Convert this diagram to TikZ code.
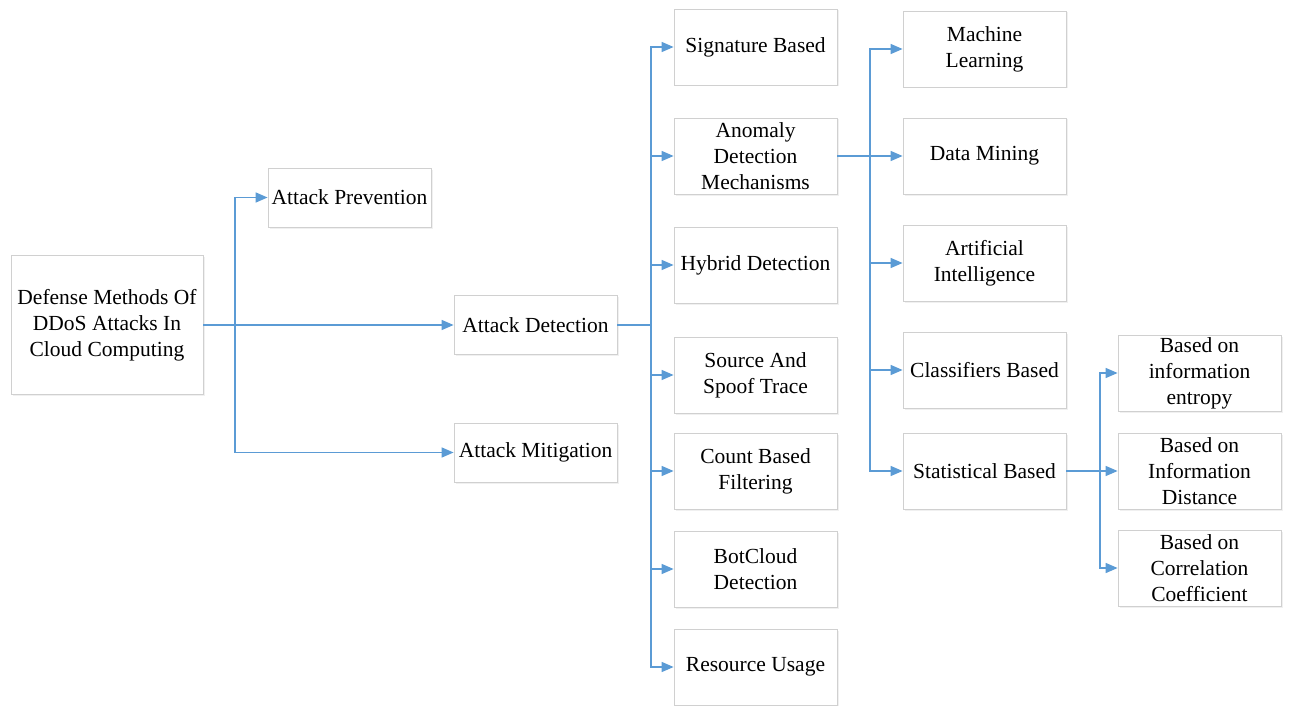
\documentclass[tikz,border=0pt]{standalone}
\usepackage{fontspec}
\setmainfont{Liberation Serif}
\usetikzlibrary{arrows.meta,shadows}
\definecolor{arrowblue}{HTML}{5B9BD5}
\definecolor{boxline}{HTML}{D0D0D0}
\begin{document}
\begin{tikzpicture}[x=1pt,y=-1pt,
  box/.style={draw=boxline,line width=0.8pt,fill=white,align=center,inner sep=2pt,
    font=\fontsize{21.5}{26}\selectfont,
    drop shadow={opacity=0.12,shadow xshift=1.5pt,shadow yshift=-1.5pt}},
  wbox/.style={box,minimum width=163pt,minimum height=59pt},
  cbox/.style={box,minimum width=163pt,minimum height=76pt},
  link/.style={draw=arrowblue,line width=1.5pt},
  conn/.style={link,-{Triangle[length=12pt,width=10pt]}}]
\useasboundingbox (0,0) rectangle (1293,706);
% root
\node[box,minimum width=192pt,minimum height=139pt] (root) at (107,325) {Defense Methods Of\\DDoS Attacks In\\Cloud Computing};
% level 2
\node[wbox] (prev) at (349.5,197.5) {Attack Prevention};
\node[wbox] (det) at (535.5,325) {Attack Detection};
\node[wbox] (mit) at (535.5,452.5) {Attack Mitigation};
% level 3
\node[cbox] (sig) at (755.5,47) {Signature Based};
\node[cbox] (anom) at (755.5,156) {Anomaly\\Detection\\Mechanisms};
\node[cbox] (hyb) at (755.5,265) {Hybrid Detection};
\node[cbox] (src) at (755.5,375) {Source And\\Spoof Trace};
\node[cbox] (cnt) at (755.5,471) {Count Based\\Filtering};
\node[cbox] (bot) at (755.5,569) {BotCloud\\Detection};
\node[cbox] (res) at (755.5,667) {Resource Usage};
% level 4
\node[cbox] (ml) at (984.5,49) {Machine\\Learning};
\node[cbox] (dm) at (984.5,156) {Data Mining};
\node[cbox] (ai) at (984.5,263) {Artificial\\Intelligence};
\node[cbox] (cls) at (984.5,370) {Classifiers Based};
\node[cbox] (stat) at (984.5,471) {Statistical Based};
% level 5
\node[cbox] (ent) at (1199.5,373) {Based on\\information\\entropy};
\node[cbox] (dist) at (1199.5,471) {Based on\\Information\\Distance};
\node[cbox] (corr) at (1199.5,568) {Based on\\Correlation\\Coefficient};
% connectors level 2
\coordinate (j1) at (235,325);
\draw[conn] (root.east) -- (det.west);
\draw[conn] (j1) |- (prev.west);
\draw[conn] (j1) |- (mit.west);
% connectors level 3
\coordinate (j2) at (651,325);
\draw[link] (det.east) -- (j2);
\foreach \n in {sig,anom,hyb,src,cnt,bot,res}{\draw[conn] (j2) |- (\n.west);}
% connectors level 4
\coordinate (j3) at (870,156);
\draw[link] (anom.east) -- (j3);
\foreach \n in {ml,dm,ai,cls,stat}{\draw[conn] (j3) |- (\n.west);}
% connectors level 5
\coordinate (j4) at (1100,471);
\draw[link] (stat.east) -- (j4);
\foreach \n in {ent,dist,corr}{\draw[conn] (j4) |- (\n.west);}
\end{tikzpicture}
\end{document}
